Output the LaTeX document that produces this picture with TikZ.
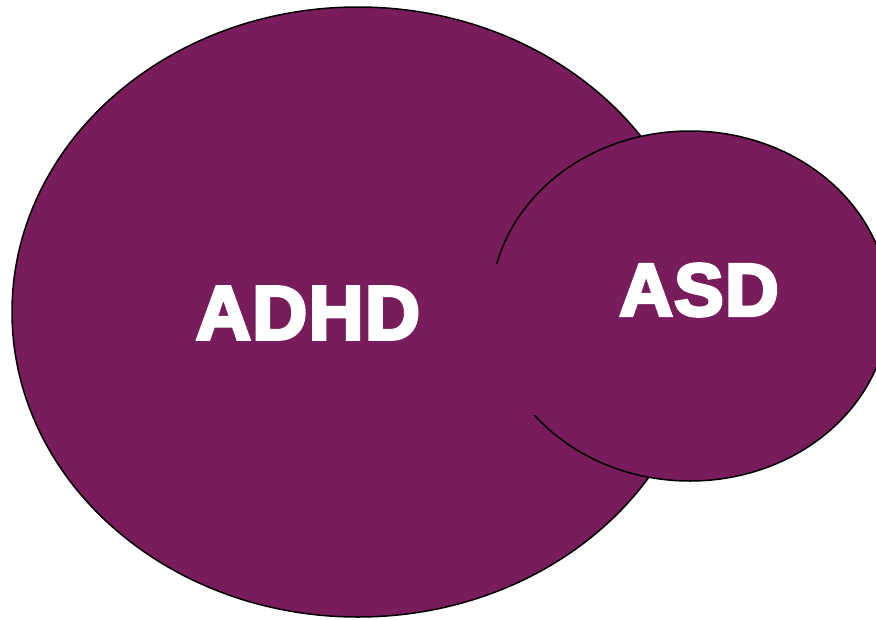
\documentclass[tikz,border=0pt]{standalone}
\usepackage{fontspec}
\newfontfamily\heavy{Liberation Sans Bold}[FakeBold=4.5,LetterSpace=2]
\usetikzlibrary{shapes.geometric}
\definecolor{plum}{RGB}{120,28,92}
\tikzset{
  blob/.style={ellipse, draw=black, line width=1.5pt, fill=plum, inner sep=0pt},
  lbl/.style={text=white, inner sep=0pt, font=\heavy}
}
\begin{document}
\begin{tikzpicture}[x=1pt,y=-1pt]
\useasboundingbox (0,0) rectangle (876,619);
\node[blob, minimum width=692pt, minimum height=610pt] (adhd) at (358,312) {};
\node[blob, minimum width=398pt, minimum height=350pt] (asd) at (690,306) {};
\fill[plum] (470,264) rectangle (548,415);
\node[lbl, font=\heavy\fontsize{76}{80}\selectfont] (tadhd) at (308,313) {ADHD};
\node[lbl, font=\heavy\fontsize{74}{78}\selectfont] (tasd) at (699,290) {ASD};
\end{tikzpicture}
\end{document}
